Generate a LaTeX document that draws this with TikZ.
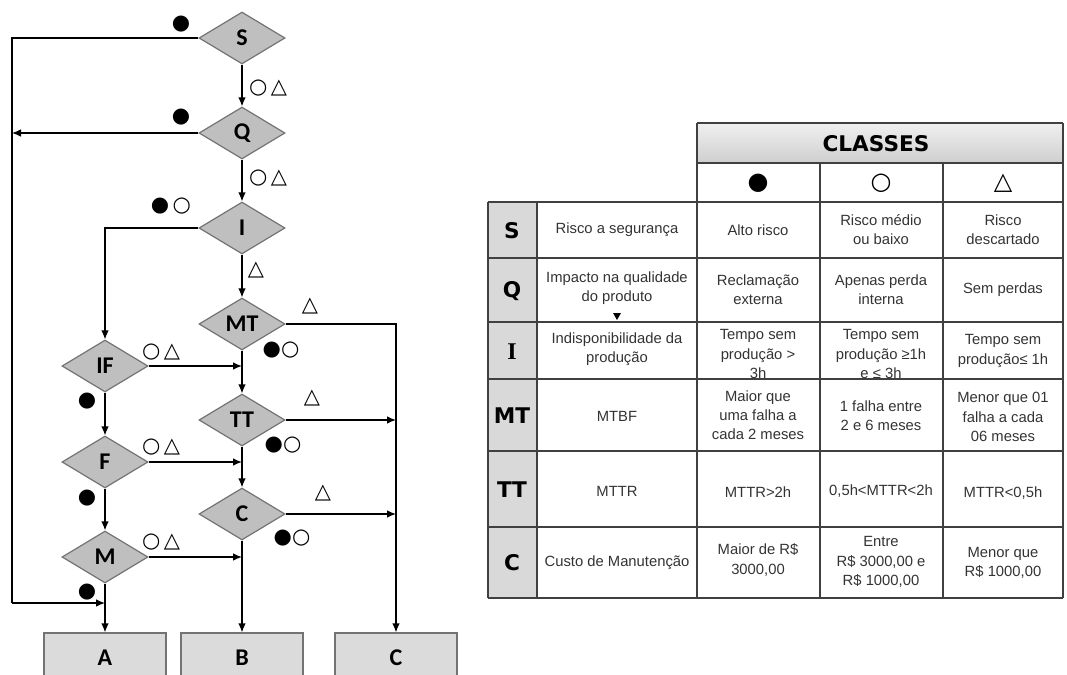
\documentclass[tikz,border=0pt]{standalone}
\usepackage{fontspec}
\setmainfont{Liberation Sans}
\newfontfamily\symfont{DejaVu Sans}
\newfontfamily\lblfont{Carlito}
\newfontfamily\hdfont{DejaVu Sans}
\newfontfamily\serfont{Liberation Serif}
\usetikzlibrary{arrows.meta,shapes.geometric}
\definecolor{DiaFill}{rgb}{0.75,0.75,0.75}
\definecolor{DiaLine}{rgb}{0.45,0.45,0.45}
\definecolor{BoxFill}{rgb}{0.86,0.86,0.86}
\definecolor{GridClr}{rgb}{0.25,0.25,0.25}
\definecolor{TxtClr}{rgb}{0.2,0.2,0.2}
\newcommand{\SymFull}{{\symfont ●}}
\newcommand{\SymOpen}{{\symfont ○}}
\newcommand{\SymTri}{{\symfont △}}

\begin{document}
\begin{tikzpicture}[x=0.5pt,y=-0.5pt,
  dec/.style={diamond,draw=DiaLine,fill=DiaFill,line width=0.6pt,aspect=1.65,
    minimum width=43pt,minimum height=26pt,inner sep=0pt,
    font=\lblfont\bfseries\fontsize{12}{12}\selectfont},
  res/.style={rectangle,draw=DiaLine,fill=BoxFill,line width=0.6pt,
    minimum width=61pt,minimum height=25pt,inner sep=0pt,
    font=\lblfont\bfseries\fontsize{12}{12}\selectfont},
  flow/.style={line width=0.65pt,-{Latex[length=4.5pt,width=3.8pt]}},
  sym/.style={inner sep=0pt,font=\fontsize{10.5}{10.5}\selectfont},
  cell/.style={align=center,inner sep=0pt,text=TxtClr,
    font=\fontsize{7.4}{9.6}\selectfont},
  rowhd/.style={inner sep=0pt,font=\hdfont\bfseries\fontsize{10.8}{10.8}\selectfont}]
\useasboundingbox (0,0) rectangle (1067,675);

% decisions
\node[dec] (S) at (242,38) {S};
\node[dec] (Q) at (242,133) {Q};
\node[dec] (I) at (242,228) {I};
\node[dec] (MT) at (242,324) {MT};
\node[dec] (TT) at (242,420) {TT};
\node[dec] (Cu) at (242,514) {C};
\node[dec] (IF) at (105,366) {IF};
\node[dec] (F) at (105,462) {F};
\node[dec] (M) at (105,557) {M};

\node[res] (A) at (105,658) {A};
\node[res] (B) at (242,658) {B};
\node[res] (Cc) at (396,658) {C};

\coordinate (lt) at (12,38);
\coordinate (lb) at (12,603);

\draw[line width=0.65pt] (S.west) -- (lt) -- (lb);
\draw[flow] (lb) -- (lb -| M.south);
\draw[flow] (Q.west) -- (Q.west -| lt);
\draw[flow] (S.south) -- (Q.north);
\draw[flow] (Q.south) -- (I.north);
\draw[flow] (I.west) -| (IF.north);
\draw[flow] (I.south) -- (MT.north);
\draw[flow] (MT.east) -| (Cc.north);
\draw[flow] (IF.east) -- (IF.east -| MT.south);
\draw[flow] (MT.south) -- (TT.north);
\draw[flow] (TT.east) -- (TT.east -| Cc.north);
\draw[flow] (IF.south) -- (F.north);
\draw[flow] (F.east) -- (F.east -| TT.south);
\draw[flow] (TT.south) -- (Cu.north);
\draw[flow] (Cu.east) -- (Cu.east -| Cc.north);
\draw[flow] (F.south) -- (M.north);
\draw[flow] (M.east) -- (M.east -| Cu.south);
\draw[flow] (M.south) -- (A.north);
\draw[flow] (Cu.south) -- (B.north);

% class marks
\node[sym] (kS) at (181,24) {\SymFull};
\node[sym] (kSQ) at (268,88) {\SymOpen\,\SymTri};
\node[sym] (kQ) at (181,117) {\SymFull};
\node[sym] (kQI) at (268,178) {\SymOpen\,\SymTri};
\node[sym] (kI) at (171,206) {\SymFull\,\SymOpen};
\node[sym] (kIM) at (256,270) {\SymTri};
\node[sym] (kMT) at (310,306) {\SymTri};
\node[sym] (kMTd) at (281,350) {\SymFull\SymOpen};
\node[sym] (kIF) at (161,352) {\SymOpen\,\SymTri};
\node[sym] (kIFd) at (87,401) {\SymFull};
\node[sym] (kTT) at (312,398) {\SymTri};
\node[sym] (kTTd) at (283,445) {\SymFull\SymOpen};
\node[sym] (kF) at (161,447) {\SymOpen\,\SymTri};
\node[sym] (kFd) at (87,498) {\SymFull};
\node[sym] (kC) at (323,493) {\SymTri};
\node[sym] (kCd) at (292,538) {\SymFull\SymOpen};
\node[sym] (kM) at (161,542) {\SymOpen\,\SymTri};
\node[sym] (kMd) at (87,592) {\SymFull};

% table
\fill[gray!30] (488,202) rectangle (537,598);
\shade[top color=gray!12,bottom color=gray!38] (697,123) rectangle (1063,163);
\draw[GridClr,line width=0.8pt] (697,123) -- (1063,123) (697,163) -- (1063,163);
\foreach \y in {202,258,322,379,451,527,598}
  \draw[GridClr,line width=0.8pt] (488,\y) -- (1063,\y);
\foreach \x in {488,537}
  \draw[GridClr,line width=0.8pt] (\x,202) -- (\x,598);
\foreach \x in {820,943}
  \draw[GridClr,line width=0.8pt] (\x,163) -- (\x,598);
\foreach \x in {697,1063}
  \draw[GridClr,line width=0.8pt] (\x,123) -- (\x,598);

\node[rowhd] (hd) at (876,144) {CLASSES};
\node[sym,font=\fontsize{12}{12}\selectfont] (hHi) at (758,183) {\SymFull};
\node[sym,font=\fontsize{12}{12}\selectfont] (hMid) at (881,183) {\SymOpen};
\node[sym,font=\fontsize{12}{12}\selectfont] (hLow) at (1003,183) {\SymTri};

\node[rowhd] (rS) at (512,231) {S};
\node[rowhd] (rQ) at (512,291) {Q};
\node[rowhd,font=\serfont\bfseries\fontsize{12}{12}\selectfont] (rI) at (512,352) {I};
\node[rowhd] (rMT) at (512,416) {MT};
\node[rowhd] (rTT) at (512,490) {TT};
\node[rowhd] (rC) at (512,563) {C};

\node[cell] (sD) at (617,230) {Risco a segurança};
\node[cell] (sH) at (758,230) {Alto risco};
\node[cell] (sM) at (881,230) {Risco médio\\ou baixo};
\node[cell] (sL) at (1003,230) {Risco\\descartado};

\node[cell] (qD) at (617,288) {Impacto na qualidade\\do produto};
\node[cell] (qH) at (758,290) {Reclamação\\externa};
\node[cell] (qM) at (881,290) {Apenas perda\\interna};
\node[cell] (qL) at (1003,290) {Sem perdas};
\fill[black] (613,313) -- (621,313) -- (617,320) -- cycle;

\node[cell] (iD) at (617,349) {Indisponibilidade da\\produção};
\node[cell] (iH) at (758,354) {Tempo sem\\produção >\\3h};
\node[cell] (iM) at (881,354) {Tempo sem\\produção ≥1h\\e ≤ 3h};
\node[cell] (iL) at (1003,351) {Tempo sem\\produção≤ 1h};

\node[cell] (mD) at (617,416) {MTBF};
\node[cell] (mH) at (758,415) {Maior que\\uma falha a\\cada 2 meses};
\node[cell] (mM) at (881,416) {1 falha entre\\2 e 6 meses};
\node[cell] (mL) at (1003,417) {Menor que 01\\falha a cada\\06 meses};

\node[cell] (tD) at (617,491) {MTTR};
\node[cell] (tH) at (758,492) {MTTR>2h};
\node[cell] (tM) at (881,491) {0,5h<MTTR<2h};
\node[cell] (tL) at (1003,493) {MTTR<0,5h};

\node[cell] (cD) at (617,563) {Custo de Manutenção};
\node[cell] (cH) at (758,560) {Maior de R\$\\3000,00};
\node[cell] (cM) at (881,562) {Entre\\R\$ 3000,00 e\\R\$ 1000,00};
\node[cell] (cL) at (1003,563) {Menor que\\R\$ 1000,00};

\end{tikzpicture}
\end{document}
